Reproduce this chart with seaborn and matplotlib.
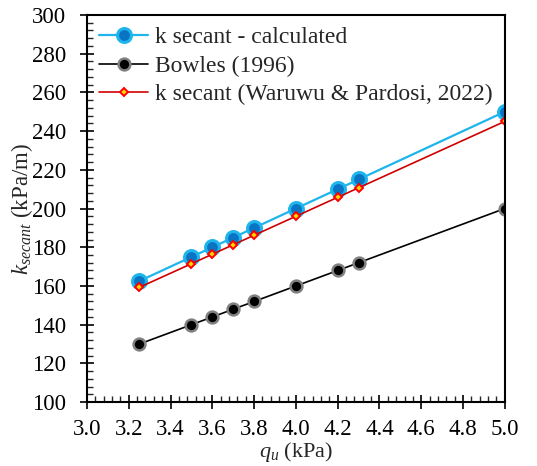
import matplotlib
matplotlib.use("Agg")
import matplotlib.pyplot as plt
import seaborn as sns
import pandas as pd
from matplotlib.ticker import MultipleLocator

qu = [3.25, 3.5, 3.6, 3.7, 3.8, 4.0, 4.2, 4.3, 5.0]
k_calculated = [162.5, 175, 180, 185, 190, 200, 210, 215, 250]
k_bowles = [130, 140, 144, 148, 152, 160, 168, 172, 200]
k_waruwu = [159.25, 171.5, 176.4, 181.3, 186.2, 196, 205.8, 210.7, 245]

labels = ["k secant - calculated", "Bowles (1996)", "k secant (Waruwu & Pardosi, 2022)"]

sns.set_theme(style="white")
plt.rcParams["font.family"] = ["Liberation Serif", "DejaVu Serif"]
plt.rcParams["mathtext.fontset"] = "custom"
plt.rcParams["mathtext.it"] = "Liberation Serif:italic"
plt.rcParams["mathtext.rm"] = "Liberation Serif"

fig = plt.figure(figsize=(5.37, 4.66), dpi=100)
ax = fig.add_axes([0.162, 0.137, 0.778, 0.831])

styles = [
    dict(color="#1EB4EC", marker="o", markersize=10, markerfacecolor="#0A74C4",
         markeredgecolor="#1EB4EC", markeredgewidth=2.2, linewidth=1.6),
    dict(color="black", marker="o", markersize=8.5, markerfacecolor="black",
         markeredgecolor="#808080", markeredgewidth=1.8, linewidth=1.2),
    dict(color="#D00000", marker="D", markersize=4.5, markerfacecolor="#FFD700",
         markeredgecolor="#FF0000", markeredgewidth=1.4, linewidth=1.2),
]

for vals, lab, st in zip([k_calculated, k_bowles, k_waruwu], labels, styles):
    df = pd.DataFrame({"qu": qu, "k": vals})
    sns.lineplot(data=df, x="qu", y="k", ax=ax, label=lab, **st)

ax.set_xlim(3.0, 5.0)
ax.set_ylim(100, 300)
ax.xaxis.set_major_locator(MultipleLocator(0.2))
ax.xaxis.set_minor_locator(MultipleLocator(0.04))
ax.yaxis.set_major_locator(MultipleLocator(20))
ax.yaxis.set_minor_locator(MultipleLocator(4))
ax.set_xticklabels([f"{v:.1f}" for v in ax.get_xticks()])

ax.tick_params(which="major", direction="inout", length=10, width=1.2,
               labelsize=16.5, colors="black", bottom=True, left=True)
ax.tick_params(axis="x", which="major", pad=7)
ax.tick_params(axis="y", which="major", pad=10)
ax.tick_params(which="minor", direction="in", length=4, width=1.0,
               bottom=True, left=True)
for sp in ax.spines.values():
    sp.set_color("black")
    sp.set_linewidth(1.5)

ax.set_xlabel(r"$q_u$ (kPa)", fontsize=16)
ax.set_ylabel(r"$k_{secant}$ (kPa/m)", fontsize=16.5)
ax.xaxis.set_label_coords(0.5, -0.098)
ax.yaxis.set_label_coords(-0.125, 0.5)

ax.legend(loc="upper left", frameon=False, fontsize=17, handlelength=2.1,
          handletextpad=0.3, borderaxespad=0.3, labelspacing=0.3,
          borderpad=0.2)

fig.savefig("out.png", dpi=100)
